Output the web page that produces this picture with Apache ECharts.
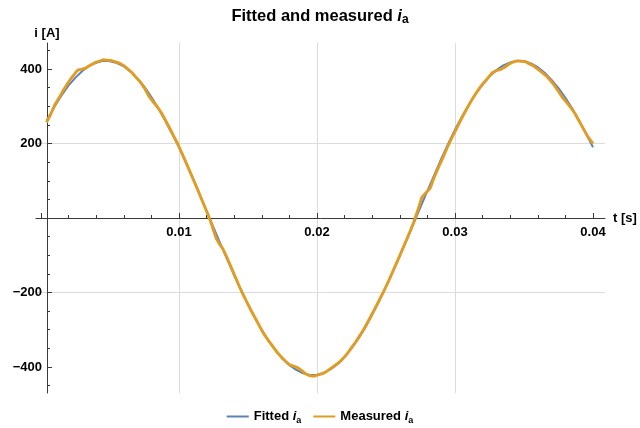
<!DOCTYPE html>
<html><head><meta charset="utf-8">
<script src="https://cdn.jsdelivr.net/npm/echarts@6/dist/echarts.min.js"></script>
<style>html,body{margin:0;padding:0;background:#fff}#c{width:640px;height:428px}</style>
</head><body><div id="c"></div>
<script>
// ---- data ----
const fittedT = [0.0004,0.0005,0.001,0.0015,0.002,0.0025,0.003,0.0035,0.004,0.0045,0.005,0.0055,0.006,0.0065,0.007,0.0075,0.008,0.0085,0.009,0.0095,0.010,0.0105,0.011,0.0115,0.012,0.0125,0.013,0.0135,0.014,0.0145,0.015,0.0155,0.016,0.0165,0.017,0.0175,0.018,0.0185,0.019,0.0195,0.020,0.0205,0.021,0.0215,0.022,0.0225,0.023,0.0235,0.024,0.0245,0.025,0.0255,0.026,0.0265,0.027,0.0275,0.028,0.0285,0.029,0.0295,0.030,0.0305,0.031,0.0315,0.032,0.0325,0.033,0.0335,0.034,0.0345,0.035,0.0355,0.036,0.0365,0.037,0.0375,0.038,0.0385,0.039,0.0395,0.040];
const fittedI = [261,268,300,330,356,377,395,409,417,422,421,416,407,393,374,352,325,295,262,226,190,149,107,63,19,-25,-69,-112,-154,-194,-232,-268,-301,-331,-356,-378,-395,-408,-417,-422,-421,-416,-406,-392,-373,-350,-324,-294,-260,-224,-185,-144,-102,-59,-15,29,73,116,159,199,237,272,304,333,358,380,397,410,418,422,421,415,405,390,371,349,323,294,261,226,190];
const measuredT = [0.0004,0.0007,0.001,0.0013,0.0016,0.0019,0.0022,0.0025,0.0027,0.003,0.0033,0.0036,0.0039,0.0042,0.0045,0.0048,0.0051,0.0054,0.0057,0.006,0.0063,0.0066,0.0069,0.0072,0.0075,0.0078,0.0081,0.0084,0.0087,0.009,0.0093,0.0096,0.0099,0.0102,0.0105,0.0108,0.0111,0.0114,0.0117,0.012,0.0123,0.0125,0.0127,0.0129,0.0132,0.0135,0.0138,0.0141,0.0144,0.0147,0.015,0.0153,0.0156,0.0159,0.0162,0.0165,0.0168,0.0171,0.0174,0.0177,0.018,0.0183,0.0186,0.0189,0.0192,0.0195,0.0198,0.0201,0.0204,0.0207,0.021,0.0213,0.0216,0.0219,0.0222,0.0225,0.0228,0.0231,0.0234,0.0237,0.024,0.0243,0.0246,0.0249,0.0252,0.0255,0.0258,0.0261,0.0264,0.0267,0.027,0.0273,0.0276,0.0279,0.0282,0.0285,0.0288,0.0291,0.0294,0.0297,0.03,0.0303,0.0306,0.0309,0.0312,0.0315,0.0318,0.0321,0.0324,0.0327,0.033,0.0333,0.0336,0.0339,0.0342,0.0345,0.0348,0.0351,0.0354,0.0357,0.036,0.0363,0.0366,0.0369,0.0372,0.0375,0.0378,0.0381,0.0384,0.0387,0.039,0.0393,0.0396,0.04];
const measuredI = [257,278,304,322,342,360,376,390,398,400,404,411,417,421,425,424,423,419,416,409,400,390,377,365,349,328,313,300,284,264,243,221,200,175,150,124,98,72,45,18,-10,-33,-55,-68,-84,-108,-134,-160,-186,-210,-232,-254,-274,-295,-314,-330,-345,-360,-373,-384,-394,-398,-402,-410,-419,-424,-425,-421,-418,-412,-404,-396,-388,-377,-364,-348,-333,-316,-298,-278,-257,-236,-214,-192,-168,-143,-118,-92,-66,-40,-12,20,56,68,80,110,136,160,186,210,232,254,276,296,316,334,350,364,377,390,396,399,405,413,419,422,421,420,414,408,400,391,382,370,356,340,323,310,296,280,260,240,220,200];
const seriesNames = ['Fitted', 'Measured'];
const xTickLabels = [0.01, 0.02, 0.03, 0.04];
const xMajorTicks = [0, 0.01, 0.02, 0.03, 0.04];
const yTickLabels = [-400, -200, 200, 400];
const yMajorTicks = [-400, -200, 0, 200, 400];

// ---- styling ----
const FONT = '"Liberation Sans", Arial, Helvetica, sans-serif';
const BLUE = '#5E81B5', ORANGE = '#E19C24', AXIS = '#3a3a3a', GRID = '#dcdcdc';
function rich(fs, lh) {
  return {
    b: {fontFamily: FONT, fontWeight: 'bold', fontSize: fs, color: '#000', lineHeight: lh, verticalAlign: 'middle'},
    i: {fontFamily: FONT, fontWeight: 'bold', fontStyle: 'italic', fontSize: fs, color: '#000', lineHeight: lh, verticalAlign: 'middle'},
    s: {fontFamily: FONT, fontWeight: 'bold', fontSize: Math.round(fs * 0.7), color: '#000', lineHeight: Math.round(fs * 0.7), verticalAlign: 'bottom'}
  };
}
const fmt = (name) => '{b|' + name + ' }{i|i}{s|a}';
const chart = echarts.init(document.getElementById('c'), null, {renderer: 'canvas'});
chart.setOption({
  animation: false,
  backgroundColor: '#fff',
  title: {
    text: '{b|Fitted and measured }{i|i}{s|a}',
    left: 'center', top: 1,
    textStyle: {rich: rich(16.5, 20)}
  },
  grid: {left: 36, top: 43, width: 569, height: 350},
  legend: {
    top: 405, left: 'center',
    icon: 'rect', itemWidth: 22, itemHeight: 2, itemGap: 12,
    data: seriesNames,
    formatter: fmt,
    textStyle: {rich: rich(13, 18)}
  },
  xAxis: {
    type: 'value', min: -0.000362, max: 0.04087,
    minInterval: 0.01, maxInterval: 0.01, splitNumber: 4,
    position: 'bottom', offset: -175,
    name: 't [s]', nameLocation: 'end', nameGap: 8,
    nameTextStyle: {fontFamily: FONT, fontWeight: 'bold', fontSize: 13, color: '#000', verticalAlign: 'middle'},
    axisLine: {onZero: false, lineStyle: {color: AXIS, width: 1}},
    axisTick: {show: true, inside: true, length: 5, customValues: xMajorTicks, lineStyle: {color: AXIS}},
    minorTick: {show: true, splitNumber: 5, length: 3, lineStyle: {color: AXIS}},
    axisLabel: {
      margin: 8, fontFamily: FONT, fontWeight: 'bold', fontSize: 13, color: '#000',
      showMinLabel: false, showMaxLabel: false,
      formatter: (v) => {
        const k = xTickLabels.find(t => Math.abs(t - v) < 1e-9);
        return k === undefined ? '' : k.toFixed(2);
      }
    },
    splitLine: {show: true, showMinLine: false, showMaxLine: false, lineStyle: {color: GRID, width: 1}}
  },
  yAxis: {
    type: 'value', min: -470, max: 470,
    minInterval: 200, maxInterval: 200, splitNumber: 4,
    offset: -11,
    name: 'i [A]', nameLocation: 'end', nameGap: 3,
    nameTextStyle: {fontFamily: FONT, fontWeight: 'bold', fontSize: 13, color: '#000'},
    axisLine: {show: true, onZero: false, lineStyle: {color: AXIS, width: 1}},
    axisTick: {show: true, inside: true, length: 5, customValues: yMajorTicks, lineStyle: {color: AXIS}},
    minorTick: {show: true, splitNumber: 4, length: 3, lineStyle: {color: AXIS}},
    axisLabel: {
      margin: 5, fontFamily: FONT, fontWeight: 'bold', fontSize: 13, color: '#000',
      showMinLabel: false, showMaxLabel: false,
      formatter: (v) => {
        const k = yTickLabels.find(t => Math.abs(t - v) < 1e-6);
        if (k === undefined) return '';
        return k < 0 ? '\u2212' + (-k) : String(k);
      }
    },
    splitLine: {show: true, showMinLine: false, showMaxLine: false, lineStyle: {color: GRID, width: 1}}
  },
  series: [
    {
      name: seriesNames[0], type: 'line', symbol: 'none', showSymbol: false,
      data: fittedT.map((t, i) => [t, fittedI[i]]),
      lineStyle: {color: BLUE, width: 2}, itemStyle: {color: BLUE}, z: 2
    },
    {
      name: seriesNames[1], type: 'line', symbol: 'none', showSymbol: false,
      data: measuredT.map((t, i) => [t, measuredI[i]]),
      lineStyle: {color: ORANGE, width: 2.9}, itemStyle: {color: ORANGE}, z: 3
    }
  ]
});
</script>
</body></html>
